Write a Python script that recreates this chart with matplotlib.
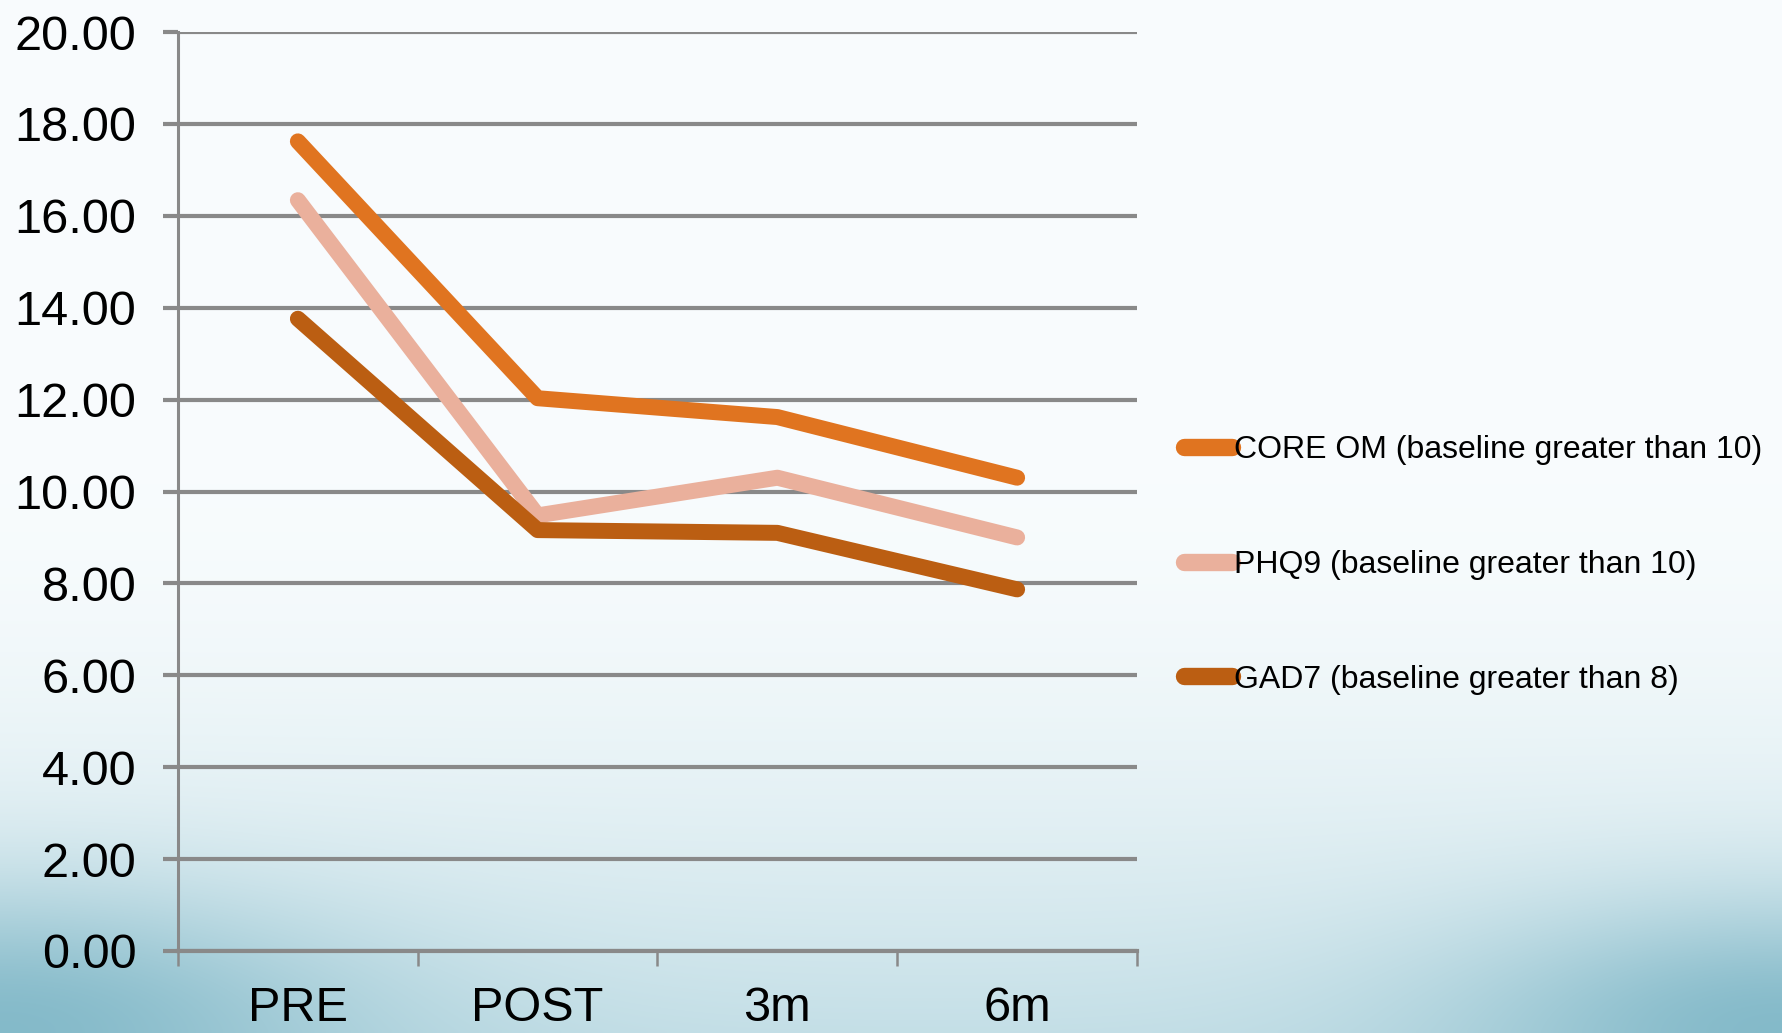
import numpy as np
import matplotlib
matplotlib.use("Agg")
from matplotlib import pyplot as plt

# mean scores at each time point
timepoints = ["PRE", "POST", "3m", "6m"]
core_om = [17.62, 12.03, 11.62, 10.30]
phq9 = [16.34, 9.48, 10.30, 9.00]
gad7 = [13.76, 9.16, 9.10, 7.87]

series_labels = [
    "CORE OM (baseline greater than 10)",
    "PHQ9 (baseline greater than 10)",
    "GAD7 (baseline greater than 8)",
]
series_colors = ["#E07420", "#EAB09C", "#BB5E12"]

yticks = np.arange(0, 21, 2)

plt.rcParams["font.family"] = ["Liberation Sans", "DejaVu Sans"]

W, H = 1783, 1033
fig = plt.figure(figsize=(W / 100, H / 100), dpi=100)

# slide style backdrop: pale at the top, light blue towards the bottom
bg = fig.add_axes([0, 0, 1, 1], zorder=-10)
u = np.linspace(0, 1, 400)[None, :]
v = np.linspace(0, 1, 240)[:, None]
top = np.array([0.973, 0.988, 0.993])
bottom = np.array([0.77, 0.875, 0.905])
corner = np.array([0.52, 0.73, 0.79])
t = np.clip((v - 0.45) / 0.55, 0, 1) ** 1.8
img = top * (1 - t[..., None]) + bottom * t[..., None]
img = np.broadcast_to(img, (240, 400, 3)).copy()
dl = (u / 0.20) ** 2 + ((1 - v) / 0.13) ** 2
dr = ((1 - u) / 0.18) ** 2 + ((1 - v) / 0.12) ** 2
w = np.clip(np.exp(-dl) + np.exp(-dr), 0, 1)[..., None]
img = img * (1 - w) + corner * w
bg.imshow(img, aspect="auto", extent=[0, 1, 0, 1], interpolation="bilinear")
bg.axis("off")

ax = fig.add_axes([178 / W, 1 - 951 / H, (1137 - 178) / W, (951 - 32) / H])
ax.patch.set_alpha(0)

x = np.arange(len(timepoints))
for vals, lab, col in zip([core_om, phq9, gad7], series_labels, series_colors):
    ax.plot(x, vals, color=col, lw=11.5, label=lab,
            solid_capstyle="round", solid_joinstyle="round", zorder=3)

ax.set_xlim(-0.5, len(timepoints) - 0.5)
ax.set_ylim(0, 20)

grey = "#898989"
ax.set_yticks(yticks)
ax.set_yticklabels(["%0.2f" % y for y in yticks])
ax.yaxis.grid(True, color=grey, lw=3.0, zorder=1)
ax.set_axisbelow(True)
ax.tick_params(axis="y", length=11, width=3.0, color=grey, pad=19,
               labelsize=35)

# boundary ticks between categories, labels centred on categories
ax.set_xticks(np.arange(-0.5, len(timepoints), 1.0))
ax.set_xticklabels([])
ax.set_xticks(x, minor=True)
ax.set_xticklabels(timepoints, minor=True)
ax.tick_params(axis="x", which="major", length=11, width=1.8, color=grey)
ax.tick_params(axis="x", which="minor", length=0, pad=25, labelsize=35)

for side in ["top", "right"]:
    ax.spines[side].set_visible(False)
ax.spines["left"].set_color(grey)
ax.spines["left"].set_linewidth(2.2)
ax.spines["bottom"].set_color(grey)
ax.spines["bottom"].set_linewidth(3.0)

leg = ax.legend(loc="center left", bbox_to_anchor=(1184 / W, 1 - 565 / H),
                bbox_transform=fig.transFigure, frameon=False, fontsize=23,
                handlelength=1.5, handletextpad=0.05, labelspacing=2.65,
                borderpad=0, borderaxespad=0)
for h in leg.get_lines():
    h.set_linewidth(12.5)
    h.set_solid_capstyle("round")

fig.savefig("out.png", dpi=100)
